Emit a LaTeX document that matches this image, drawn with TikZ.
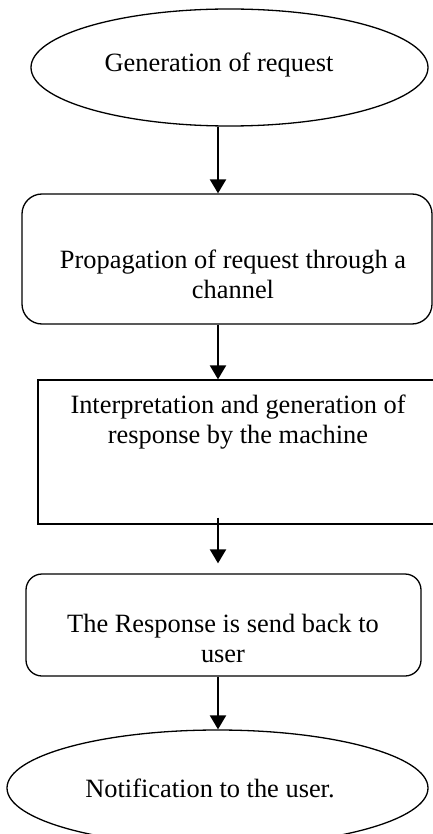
\documentclass[tikz,border=0pt]{standalone}
\usepackage{fontspec}
\setmainfont{Liberation Serif}
\usetikzlibrary{shapes.geometric,arrows.meta}
\begin{document}
\begin{tikzpicture}[x=0.5pt,y=-0.5pt,
 shapeline/.style={draw=black,line width=0.65pt},
 oval/.style={shapeline,ellipse,inner sep=0pt},
 rbox/.style={shapeline,rectangle,rounded corners=10pt,inner sep=0pt},
 sbox/.style={shapeline,rectangle,inner sep=0pt},
 lbl/.style={font=\fontsize{13.2}{15}\selectfont,align=center,inner sep=0pt},
 arr/.style={line width=1.1pt,-{Triangle[width=8pt,length=7pt]}}]
\useasboundingbox (0,0) rectangle (433,834);
\clip (0,0) rectangle (433,834);
% shapes
\node[oval,minimum width=198.5pt,minimum height=58.5pt] (e1) at (229.5,67.5) {};
\node[rbox,minimum width=205pt,minimum height=65pt] (b2) at (227,259) {};
\node[sbox,minimum width=201pt,minimum height=72pt] (b3) at (239,452) {};
\node[rbox,rounded corners=8pt,minimum width=197.5pt,minimum height=51pt] (b4) at (223.5,625) {};
\node[oval,minimum width=210.5pt,minimum height=58pt] (e5) at (217.5,788) {};
% texts
\node[lbl] (t1) at (219,65) {Generation of request};
\node[lbl] (t2) at (233,274) {Propagation of request through a\\channel};
\node[lbl] (t3) at (238,422) {Interpretation and generation of\\response by the machine};
\node[lbl] (t4) at (223,638) {The Response is send back to\\user};
\node[lbl] (t5) at (210,788) {Notification to the user.};
% arrows
\coordinate (ax) at (218,0);
\draw[arr] (e1.south -| ax) -- (b2.north -| ax);
\draw[arr] (b2.south -| ax) -- (b3.north -| ax);
\draw[arr] ([yshift=3.5pt]b3.south -| ax) -- ([yshift=5pt]b4.north -| ax);
\draw[arr] (b4.south -| ax) -- (e5.north -| ax);
\end{tikzpicture}
\end{document}
